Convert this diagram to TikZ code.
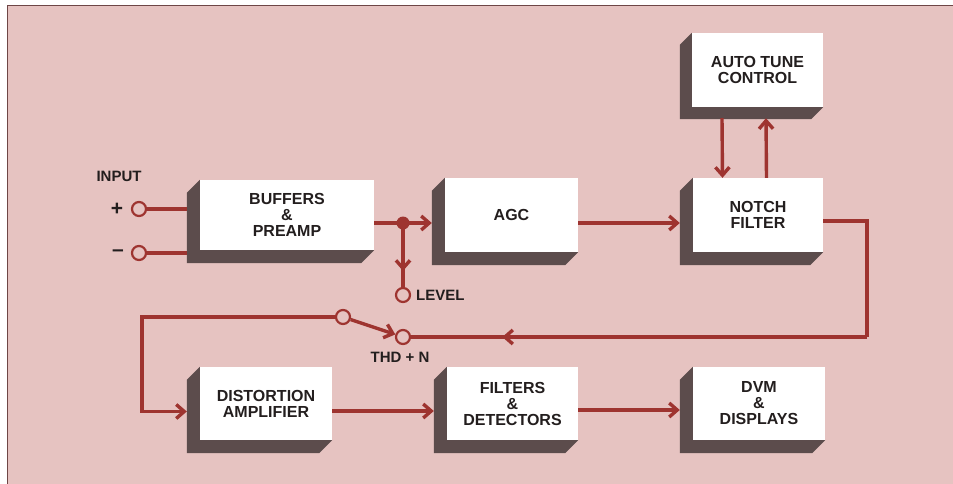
\documentclass[tikz,border=0pt]{standalone}
\usepackage{fontspec}
\setmainfont{Liberation Sans}
\usetikzlibrary{arrows.meta,decorations.markings,calc}
\definecolor{bg}{RGB}{230,195,193}
\definecolor{wire}{RGB}{158,52,48}
\definecolor{shadowc}{RGB}{92,76,76}
\definecolor{ink}{RGB}{35,30,30}
\definecolor{framec}{RGB}{110,70,70}
\newcommand{\blkshade}[2][13]{\fill[shadowc] (#2.north west) -- ++(-#1,#1) -- ([shift={(-#1,#1)}]#2.south west) -- ([shift={(-#1,#1)}]#2.south east) -- (#2.south east) -- (#2.south west) -- cycle;}
\begin{document}
\begin{tikzpicture}[x=1pt,y=-1pt,
  blk/.style={fill=white,inner sep=0pt,align=center,font=\fontsize{16}{16}\selectfont\bfseries,text=ink},
  wireline/.style={color=wire,draw,line width=3.4pt},
  arr/.style={-{Straight Barb[length=8pt,width=14pt]}},
  term/.style={circle,draw=wire,line width=2.2pt,fill=bg,minimum size=14pt,inner sep=0pt},
  jdot/.style={circle,fill=wire,minimum size=13pt,inner sep=0pt},
  lbl/.style={font=\fontsize{15}{15}\selectfont\bfseries,text=ink,inner sep=0pt},
  sign/.style={font=\fontsize{21}{21}\selectfont\bfseries,text=ink,inner sep=0pt},
  midarrow/.style={postaction={decorate},decoration={markings,mark=at position #1 with {\arrow{Straight Barb[length=8pt,width=14pt]}}}}
]
\useasboundingbox (0,0) rectangle (953,484);
\fill[white] (0,0) rectangle (953,484);
\fill[bg] (7,5) rectangle (953,484);
\draw[framec,line width=1.5pt] (953,5.5) -- (7.5,5.5) -- (7.5,484);

% blocks
\node[blk,minimum width=174pt,minimum height=70pt] (buf) at (287,215) {BUFFERS\\\&\\PREAMP};
\node[blk,minimum width=133pt,minimum height=74pt] (agc) at (511.5,215) {AGC};
\node[blk,minimum width=130pt,minimum height=74pt] (notch) at (758,215) {NOTCH\\FILTER};
\node[blk,minimum width=131pt,minimum height=74pt] (auto) at (757.5,70) {AUTO TUNE\\CONTROL};
\node[blk,minimum width=132pt,minimum height=73pt] (dist) at (266,403.5) {DISTORTION\\AMPLIFIER};
\node[blk,minimum width=131pt,minimum height=73pt] (filt) at (512.5,403.5) {FILTERS\\\&\\DETECTORS};
\node[blk,minimum width=132pt,minimum height=73pt] (dvm) at (759,403.5) {DVM\\\&\\DISPLAYS};
\blkshade{buf}\blkshade{agc}\blkshade{notch}\blkshade[12]{auto}
\blkshade{dist}\blkshade{filt}\blkshade{dvm}

\coordinate (bufin) at ([xshift=-13pt]buf.west);
\coordinate (agcin) at ([xshift=-13pt]agc.west);
\coordinate (notchin) at ([xshift=-13pt]notch.west);
\coordinate (distin) at ([xshift=-13pt]dist.west);
\coordinate (filtin) at ([xshift=-13pt]filt.west);
\coordinate (dvmin) at ([xshift=-13pt]dvm.west);

% labels
\node[lbl] (inp) at (119,176) {INPUT};
\node[sign] (plus) at (117,209) {+};
\node[sign] (minus) at (118,253) {–};
\node[lbl,anchor=west] (lvlt) at (416,295.5) {LEVEL};
\node[lbl] (thd) at (400,357) {THD + N};

% terminals
\node[term] (ip) at (139,209) {};
\node[term] (im) at (139,253) {};
\node[jdot] (jn) at (403,223) {};
\node[term] (lvl) at (403,295) {};
\node[term] (swl) at (343,317) {};
\node[term] (swr) at (403,337) {};
\coordinate (rc) at (867,337);
\coordinate (lc) at (142,317);

% wires
\draw[wireline] (ip) -- (ip -| bufin);
\draw[wireline] (im) -- (im -| bufin);
\draw[wireline] (buf.east |- jn) -- (jn.center);
\draw[wireline,arr] (jn.center) -- (jn -| agcin);
\draw[wireline,midarrow=0.75] (jn.center) -- (lvl);
\draw[wireline,arr] ([yshift=-8pt]agc.east) -- ([yshift=-8pt]notchin);
\draw[wireline,arr] ([shift={(-35.5,11)}]auto.south) -- ([xshift=-35.5pt]notch.north);
\draw[wireline,arr] ([xshift=8.5pt]notch.north) -- ([shift={(8.5,11)}]auto.south);
\draw[wireline] ([yshift=-6pt]notch.east) -| (rc);
\draw[wireline,midarrow=0.8] (rc) -- (swr);
\draw[wireline,arr] (swl) -- (swr);
\draw[wireline,arr] (swl) -- (lc) |- ([yshift=-8pt]distin);
\draw[wireline,arr] ([yshift=-7.5pt]dist.east) -- ([yshift=-7.5pt]filtin);
\draw[wireline,arr] ([yshift=-6.5pt]filt.east) -- ([yshift=-6.5pt]dvmin);
\end{tikzpicture}
\end{document}
